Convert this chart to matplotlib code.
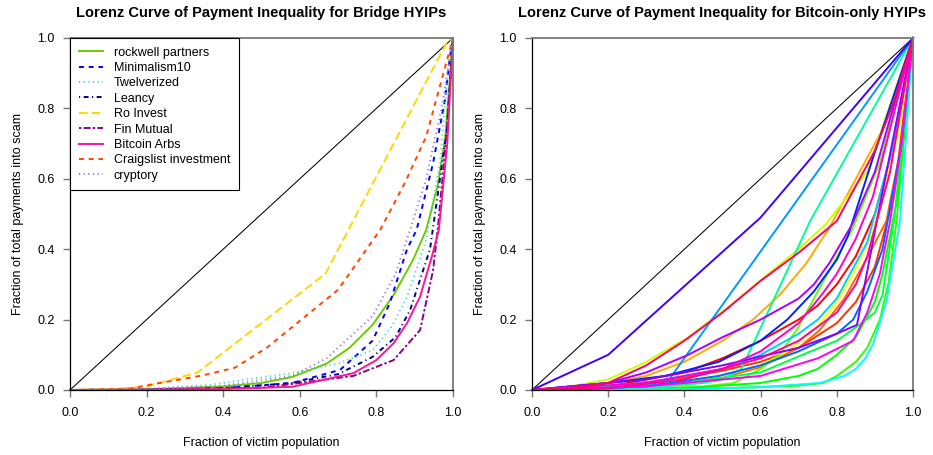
import numpy as np
import matplotlib
matplotlib.use("Agg")
import matplotlib.pyplot as plt

plt.rcParams['font.family'] = ['Liberation Sans', 'DejaVu Sans']

# ---- Bridge HYIPs (left panel) ----
bridge_names = ["rockwell partners", "Minimalism10", "Twelverized", "Leancy", "Ro Invest",
                "Fin Mutual", "Bitcoin Arbs", "Craigslist investment", "cryptory"]
bridge_colors = ["#66CD00", "#0000FF", "#48D1CC", "#00008B", "#FFD700",
                 "#8B008B", "#FF1493", "#FF4500", "#9370DB"]

rockwell_x = [0, 0.2, 0.4, 0.5, 0.58, 0.67, 0.73, 0.79, 0.845, 0.896, 0.93, 0.96, 0.98, 1]
rockwell_y = [0, 0.002, 0.01, 0.02, 0.037, 0.075, 0.12, 0.185, 0.27, 0.37, 0.455, 0.58, 0.72, 1]
minimalism_x = [0, 0.2, 0.4, 0.58, 0.705, 0.79, 0.835, 0.88, 0.905, 0.948, 0.979, 0.992, 1]
minimalism_y = [0, 0.001, 0.005, 0.02, 0.057, 0.14, 0.247, 0.40, 0.455, 0.645, 0.824, 0.946, 1]
twelverized_x = [0, 0.2, 0.36, 0.58, 0.7, 0.79, 0.84, 0.88, 0.93, 0.966, 0.99, 1]
twelverized_y = [0, 0.003, 0.014, 0.048, 0.075, 0.113, 0.18, 0.265, 0.425, 0.645, 0.95, 1]
leancy_x = [0, 0.2, 0.4, 0.58, 0.7, 0.79, 0.85, 0.888, 0.94, 0.984, 1]
leancy_y = [0, 0.001, 0.005, 0.02, 0.045, 0.094, 0.15, 0.227, 0.40, 0.74, 1]
roinvest_x = [0, 0.1, 0.2, 1 / 3, 0.5, 2 / 3, 0.985, 1]
roinvest_y = [0, 0.002, 0.01, 0.05, 0.19, 0.33, 0.99, 1]
finmutual_x = [0, 0.2, 0.5, 0.74, 0.845, 0.914, 0.948, 0.96, 0.985, 1]
finmutual_y = [0, 0.001, 0.006, 0.04, 0.085, 0.17, 0.34, 0.455, 0.75, 1]
btcarbs_x = [0, 0.2, 0.4, 0.58, 0.74, 0.8, 0.845, 0.88, 0.914, 0.945, 0.963, 0.985, 1]
btcarbs_y = [0, 0.001, 0.003, 0.009, 0.048, 0.085, 0.133, 0.19, 0.265, 0.38, 0.455, 0.7, 1]
craigslist_x = [0, 0.15, 0.235, 0.34, 0.43, 0.514, 0.70, 0.81, 0.875, 0.93, 0.975, 1]
craigslist_y = [0, 0.003, 0.02, 0.04, 0.063, 0.12, 0.285, 0.455, 0.59, 0.72, 0.90, 1]
cryptory_x = [0, 0.2, 0.4, 0.58, 0.67, 0.79, 0.85, 0.888, 0.93, 0.97, 1]
cryptory_y = [0, 0.003, 0.012, 0.04, 0.09, 0.21, 0.33, 0.455, 0.6, 0.8, 1]

bridge_x = [rockwell_x, minimalism_x, twelverized_x, leancy_x, roinvest_x,
            finmutual_x, btcarbs_x, craigslist_x, cryptory_x]
bridge_y = [rockwell_y, minimalism_y, twelverized_y, leancy_y, roinvest_y,
            finmutual_y, btcarbs_y, craigslist_y, cryptory_y]
# R line types: solid, dashed, dotted, dotdash, longdash, twodash
bridge_dashes = [None, (2.5, 2.5), (0.6, 1.8), (0.6, 1.8, 2.5, 1.8), (4.5, 2), (1.2, 1.2, 3.5, 1.2),
                 None, (2.5, 2.5), (0.6, 1.8)]

# ---- Bitcoin-only HYIPs (right panel) ----
btc_colors = ["#FF0000", "#FF3300", "#FF6600", "#FFAA00", "#FFFF00", "#CCFF00", "#66FF00",
              "#33FF00", "#00FF00", "#00FF40", "#00FF99", "#00FFFF", "#00CCFF", "#0099FF",
              "#0066FF", "#0022FF", "#4000FF", "#8800FF", "#AA00FF", "#FF00FF", "#FF00CC",
              "#FF0099", "#FF0066"]
btc_x = [
    [0, 0.2, 0.4, 0.5, 0.6, 0.7, 0.75, 0.8, 0.85, 0.9, 0.95, 1],
    [0, 0.2, 0.4, 0.5, 0.6, 0.7, 0.8, 0.85, 0.9, 0.95, 1],
    [0, 0.4, 0.5, 0.6, 0.7, 0.755, 0.82, 0.887, 0.93, 0.97, 1],
    [0, 0.15, 0.3, 0.4, 0.5, 0.58, 0.65, 0.72, 0.78, 0.85, 0.92, 1],
    [0, 0.3, 0.5, 0.6, 0.67, 0.75, 0.8, 0.843, 0.895, 0.96, 1],
    [0, 0.1, 0.2, 0.3, 0.41, 0.52, 0.62, 0.7, 0.77, 0.88, 1],
    [0, 0.3, 0.45, 0.53, 0.6, 0.65, 0.7, 0.755, 0.84, 0.913, 1],
    [0, 0.5, 0.7, 0.764, 0.8, 0.85, 0.88, 0.913, 0.935, 0.957, 1],
    [0, 0.4, 0.6, 0.7, 0.75, 0.8, 0.85, 0.9, 0.92, 0.96, 1],
    [0, 0.4, 0.6, 0.71, 0.8, 0.853, 0.9, 0.92, 0.95, 1],
    [0, 0.3, 0.45, 0.5, 0.55, 0.73, 1],
    [0, 0.4, 0.6, 0.755, 0.82, 0.85, 0.875, 0.895, 0.93, 0.966, 1],
    [0, 0.3, 0.5, 0.6, 0.7, 0.75, 0.8, 0.88, 0.95, 1],
    [0, 0.2, 0.33, 0.36, 1],
    [0, 0.3, 0.49, 0.6, 0.7, 0.8, 0.843, 0.88, 0.92, 0.97, 1],
    [0, 0.2, 0.35, 0.49, 0.6, 0.67, 0.74, 0.8, 0.83, 0.895, 1],
    [0, 0.2, 0.6, 1],
    [0, 0.3, 0.5, 0.7, 0.8, 0.853, 0.905, 1],
    [0, 0.2, 0.3, 0.41, 0.5, 0.6, 0.7, 0.74, 0.78, 0.84, 0.9, 1],
    [0, 0.3, 0.6, 0.75, 0.843, 0.88, 0.913, 0.94, 0.97, 1],
    [0, 0.3, 0.5, 0.6, 0.7, 0.76, 0.8, 0.85, 0.895, 1],
    [0, 0.2, 0.4, 0.6, 0.7, 0.8, 0.85, 0.88, 0.94, 1],
    [0, 0.1, 0.2, 0.3, 0.4, 0.5, 0.6, 0.7, 0.8, 0.9, 0.95, 1],
]
btc_y = [
    [0, 0.01, 0.05, 0.09, 0.14, 0.2, 0.24, 0.3, 0.38, 0.5, 0.7, 1],
    [0, 0.01, 0.035, 0.055, 0.08, 0.12, 0.19, 0.25, 0.35, 0.55, 1],
    [0, 0.02, 0.035, 0.065, 0.12, 0.17, 0.26, 0.39, 0.48, 0.7, 1],
    [0, 0.01, 0.04, 0.08, 0.14, 0.2, 0.27, 0.36, 0.46, 0.6, 0.74, 1],
    [0, 0.01, 0.04, 0.07, 0.11, 0.18, 0.25, 0.33, 0.45, 0.72, 1],
    [0, 0.01, 0.03, 0.08, 0.15, 0.24, 0.33, 0.4, 0.47, 0.62, 1],
    [0, 0.005, 0.01, 0.02, 0.06, 0.1, 0.18, 0.29, 0.455, 0.645, 1],
    [0, 0.005, 0.012, 0.02, 0.04, 0.08, 0.12, 0.2, 0.3, 0.48, 1],
    [0, 0.005, 0.02, 0.04, 0.06, 0.1, 0.15, 0.25, 0.33, 0.55, 1],
    [0, 0.02, 0.05, 0.1, 0.14, 0.18, 0.22, 0.27, 0.48, 1],
    [0, 0.005, 0.02, 0.03, 0.06, 0.48, 1],
    [0, 0.002, 0.008, 0.02, 0.04, 0.06, 0.09, 0.13, 0.25, 0.48, 1],
    [0, 0.02, 0.06, 0.1, 0.16, 0.2, 0.26, 0.42, 0.7, 1],
    [0, 0.004, 0.015, 0.03, 1],
    [0, 0.01, 0.04, 0.07, 0.11, 0.16, 0.2, 0.28, 0.4, 0.7, 1],
    [0, 0.02, 0.04, 0.08, 0.14, 0.2, 0.28, 0.37, 0.44, 0.66, 1],
    [0, 0.1, 0.49, 1],
    [0, 0.03, 0.07, 0.12, 0.16, 0.185, 0.48, 1],
    [0, 0.02, 0.05, 0.1, 0.15, 0.2, 0.26, 0.3, 0.36, 0.47, 0.62, 1],
    [0, 0.01, 0.04, 0.09, 0.14, 0.22, 0.33, 0.48, 0.7, 1],
    [0, 0.02, 0.06, 0.11, 0.19, 0.27, 0.33, 0.43, 0.55, 1],
    [0, 0.005, 0.03, 0.09, 0.14, 0.22, 0.3, 0.38, 0.62, 1],
    [0, 0.005, 0.02, 0.07, 0.14, 0.22, 0.31, 0.39, 0.48, 0.68, 0.82, 1],
]

ticks = [0.0, 0.2, 0.4, 0.6, 0.8, 1.0]


def style_axes(ax, title):
    ax.set_xlim(0, 1)
    ax.set_ylim(0, 1)
    ax.set_xticks(ticks)
    ax.set_yticks(ticks)
    ax.set_xticklabels(["%.1f" % t for t in ticks])
    ax.set_yticklabels(["%.1f" % t for t in ticks])
    ax.tick_params(length=5, width=1, color="#777777", pad=6, labelsize=9)
    ax.tick_params(axis="x", pad=7)
    ax.spines["left"].set_color("black")
    ax.spines["bottom"].set_color("black")
    ax.spines["left"].set_linewidth(0.9)
    ax.spines["bottom"].set_linewidth(0.9)
    ax.spines["top"].set_color("#777777")
    ax.spines["right"].set_color("#777777")
    ax.spines["top"].set_linewidth(1.3)
    ax.spines["right"].set_linewidth(1.3)
    ax.text(0.5, 1.07, title, transform=ax.transAxes, ha="center", va="center",
            fontsize=10.5, fontweight="bold")
    ax.set_xlabel("Fraction of victim population", fontsize=9)
    ax.set_ylabel("Fraction of total payments into scam", fontsize=9)
    ax.xaxis.set_label_coords(0.5, -53 / 352)
    ax.yaxis.set_label_coords(-52 / 383, 0.5)
    ax.xaxis.label.set_va("center")
    ax.yaxis.label.set_va("center")
    # line of equality
    ax.plot([0, 1], [0, 1], color="black", lw=0.75, clip_on=False, zorder=1)


fig = plt.figure(figsize=(9.33, 4.55), dpi=100)
ax1 = fig.add_axes([70 / 933, 65 / 455, 383 / 933, 352 / 455])
ax2 = fig.add_axes([532 / 933, 65 / 455, 381 / 933, 352 / 455])

style_axes(ax1, "Lorenz Curve of Payment Inequality for Bridge HYIPs")
for xs, ys, c, d, name in zip(bridge_x, bridge_y, bridge_colors, bridge_dashes, bridge_names):
    line, = ax1.plot(xs, ys, color=c, lw=1.4, label=name, clip_on=False, zorder=2)
    if d is not None:
        line.set_dashes(d)

leg = ax1.legend(loc="upper left", bbox_to_anchor=(0, 1), borderaxespad=0, fontsize=9,
                 frameon=True, fancybox=False, edgecolor="black", framealpha=1,
                 handlelength=1.9, handletextpad=0.9, labelspacing=0.27, borderpad=0.7)
leg.get_frame().set_linewidth(0.8)

style_axes(ax2, "Lorenz Curve of Payment Inequality for Bitcoin-only HYIPs")
for xs, ys, c in zip(btc_x, btc_y, btc_colors):
    ax2.plot(xs, ys, color=c, lw=1.4, clip_on=False, zorder=2)

plt.savefig("out.png", dpi=100)
plt.close()
